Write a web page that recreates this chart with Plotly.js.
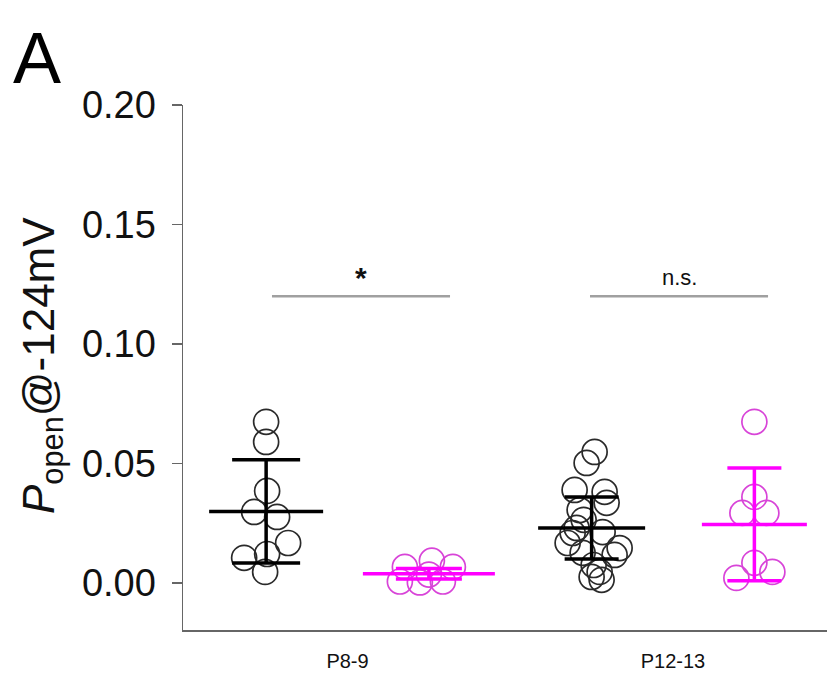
<!DOCTYPE html>
<html><head><meta charset="utf-8">
<script src="https://cdn.plot.ly/plotly-3.0.1.min.js"></script>
<style>html,body{margin:0;padding:0;background:#fff}#chart{width:827px;height:675px}</style>
</head><body><div id="chart"></div>
<script>
// ---- data ----
const categories = ['P8-9', 'P12-13'];
const seriesNames = ['black', 'magenta'];

const p89Black = [0.0674, 0.0590, 0.0385, 0.0297, 0.0276, 0.0167, 0.0121, 0.0105, 0.0046];
const p89BlackJitter = [0, 0, 1, -12, 11, 22, 1, -22, -1];

const p89Magenta = [0.0067, 0.0093, 0.0067, 0.0006, 0.0002, 0.0006, 0.0035];
const p89MagentaJitter = [-24, 3, 24, -29, -9, 14, 0];

const p1213Black = [0.0548, 0.0502, 0.0389, 0.0381, 0.0335, 0.0305, 0.0264, 0.0230, 0.0209,
                    0.0213, 0.0167, 0.0146, 0.0126, 0.0117, 0.0075, 0.0046, 0.0025, 0.0013];
const p1213BlackJitter = [3, -5, -17, 13, 15, -12, -8, -15, -19, 11, -24, 28, -9, 23, 2, 8, 0, 10];

const p1213Magenta = [0.0674, 0.0360, 0.0293, 0.0293, 0.0084, 0.0021, 0.0046];
const p1213MagentaJitter = [0, 0, -12, 12, 0, -18, 18];

// mean and SD per group, order: P8-9 black, P8-9 magenta, P12-13 black, P12-13 magenta
const groupMeans = [0.0299, 0.0038, 0.0230, 0.0245];
const groupSD = [0.0216, 0.0022, 0.0130, 0.0236];

const sigLabels = ['*', 'n.s.'];
const sigLevel = 0.12;

const yTicks = [0, 0.05, 0.10, 0.15, 0.20];

// ---- styles ----
const colors = ['#000000', '#ff00ff'];
const circleColors = ['#2a2a2a', '#d844d8'];
const pxPerUnit = 325.5;          // axis scale: px per category unit
const groupOffset = 0.25;          // series offset from category centre
const meanLen = [114, 132, 107, 105];
const capHalf = [34, 33, 27, 27];
const FONT = 'Liberation Sans, Arial, sans-serif';

const groups = [
  {cat: 0, s: 0, v: p89Black, j: p89BlackJitter},
  {cat: 0, s: 1, v: p89Magenta, j: p89MagentaJitter},
  {cat: 1, s: 0, v: p1213Black, j: p1213BlackJitter},
  {cat: 1, s: 1, v: p1213Magenta, j: p1213MagentaJitter}
];

const traces = [];
groups.forEach((g, i) => {
  const cx = (g.cat + 1) + (g.s === 0 ? -groupOffset : groupOffset);
  traces.push({
    type: 'scatter', mode: 'markers', name: categories[g.cat] + ' ' + seriesNames[g.s],
    x: g.j.map(d => cx + d / pxPerUnit), y: g.v,
    marker: {symbol: 'circle-open', size: 25, color: circleColors[g.s], line: {width: 1.7, color: circleColors[g.s]}},
    showlegend: false, hoverinfo: 'y'
  });
});
groups.forEach((g, i) => {
  const cx = (g.cat + 1) + (g.s === 0 ? -groupOffset : groupOffset);
  traces.push({
    type: 'scatter', mode: 'markers', name: 'mean',
    x: [cx], y: [groupMeans[i]],
    marker: {symbol: 'line-ew-open', size: meanLen[i] / 1.4, color: colors[g.s], line: {width: 3.5, color: colors[g.s]}},
    error_y: {type: 'data', array: [groupSD[i]], visible: true, color: colors[g.s], thickness: 3.5, width: capHalf[i]},
    showlegend: false, hoverinfo: 'y'
  });
});

const sigLines = [[0.768, 1.315], [1.745, 2.292]];
const shapes = sigLines.map(s => ({
  type: 'line', xref: 'x', yref: 'y', x0: s[0], x1: s[1], y0: sigLevel, y1: sigLevel,
  line: {color: '#a0a0a0', width: 2.5}
}));

const annotations = [
  {text: '<b>' + sigLabels[0] + '</b>', x: (sigLines[0][0] + sigLines[0][1]) / 2, y: sigLevel, xref: 'x', yref: 'y',
   yanchor: 'bottom', yshift: 0, showarrow: false, font: {family: FONT, size: 30, color: '#111'}},
  {text: sigLabels[1], x: (sigLines[1][0] + sigLines[1][1]) / 2, y: sigLevel, xref: 'x', yref: 'y',
   yanchor: 'bottom', yshift: 4, showarrow: false, font: {family: FONT, size: 22, color: '#111'}},
  {text: 'A', xref: 'paper', yref: 'paper', x: (37 - 183) / 644, y: (630 - 58) / 525,
   xanchor: 'center', yanchor: 'middle', showarrow: false, font: {family: FONT, size: 72, color: '#000'}},
  {text: '<i>P</i><sub>open</sub>@-124mV', xref: 'paper', yref: 'paper', x: (42 - 183) / 644, y: (630 - 366) / 525,
   xanchor: 'center', yanchor: 'middle', textangle: -90, showarrow: false, font: {family: FONT, size: 44, color: '#111'}}
];

const layout = {
  width: 827, height: 675,
  margin: {l: 183, r: 0, t: 105, b: 45, pad: 0},
  paper_bgcolor: '#fff', plot_bgcolor: '#fff',
  showlegend: false,
  xaxis: {
    range: [1 - 164.5 / pxPerUnit, 1 + 479.5 / pxPerUnit],
    tickmode: 'array', tickvals: [1, 2], ticktext: categories,
    ticks: '', showline: true, linecolor: '#666', linewidth: 1.5,
    showgrid: false, zeroline: false, ticklabelstandoff: 12,
    tickfont: {family: FONT, size: 20, color: '#111'}
  },
  yaxis: {
    range: [-0.0197, 0.2],
    tickmode: 'array', tickvals: yTicks, tickformat: '.2f',
    ticks: 'outside', ticklen: 10, tickwidth: 1.5, tickcolor: '#666',
    showline: true, linecolor: '#666', linewidth: 1.5,
    showgrid: false, zeroline: false, ticklabelstandoff: 8,
    tickfont: {family: FONT, size: 38, color: '#111'}
  },
  shapes: shapes,
  annotations: annotations
};

Plotly.newPlot('chart', traces, layout, {displayModeBar: false, staticPlot: true});
</script>
</body></html>
